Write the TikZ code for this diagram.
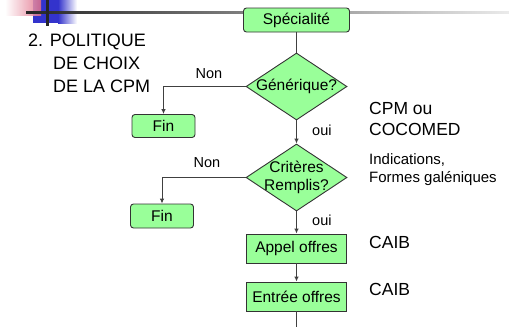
\documentclass[tikz,border=0pt]{standalone}
\usepackage{fontspec}
\setmainfont{Liberation Sans}
\usetikzlibrary{shapes.geometric,arrows.meta}
\definecolor{boxgreen}{RGB}{153,255,153}
\definecolor{linegray}{RGB}{64,64,64}
\definecolor{bannerblue}{RGB}{51,51,204}
\definecolor{bannerred}{RGB}{225,110,135}

\begin{document}
\begin{tikzpicture}[x=1pt,y=-1pt]

\tikzset{
  BoxStyle/.style = { rectangle, draw=black!80, fill=boxgreen, line width=0.9pt,
                      inner sep=0pt, font=\fontsize{15.5}{18}\selectfont },
  RoundBoxStyle/.style = { BoxStyle, rounded corners=3pt },
  DecisionStyle/.style = { diamond, draw=black!80, fill=boxgreen, line width=0.9pt,
                           aspect=1.5, inner sep=-4pt, align=center,
                           minimum width=101pt, minimum height=67pt,
                           font=\fontsize{15.5}{18}\selectfont },
  EdgeStyle/.style = { draw=linegray, line width=0.9pt,
                       -{Latex[length=5pt,width=4.5pt]} },
  LabelStyle/.style = { inner sep=0pt, anchor=west, text height=0.72em,
                        text depth=0.2em, font=\fontsize{14.5}{16}\selectfont },
  NoteStyle/.style = { LabelStyle, font=\fontsize{17.5}{19}\selectfont },
  SmallNoteStyle/.style = { LabelStyle, font=\fontsize{15}{17}\selectfont },
  TitleStyle/.style = { LabelStyle, font=\fontsize{18}{20}\selectfont } }

  \useasboundingbox (0,0) rectangle (509,327);

  % bandeau
  \fill[bannerblue] (33,0) rectangle (58,23);
  \shade[left color=bannerblue, right color=white] (58,0) rectangle (77,23);
  \shade[left color=white, right color=bannerred, opacity=0.85] (5,0) rectangle (41,15);
  \shade[left color=black!85, right color=black!8] (26,11) rectangle (509,13.5);
  \fill[black!85] (45.5,0) rectangle (48.5,26);

  \node[TitleStyle] (titre1) at (28,44) {2. POLITIQUE};
  \node[TitleStyle] (titre2) at (53,67) {DE CHOIX};
  \node[TitleStyle] (titre3) at (53,90) {DE LA CPM};

  \node[RoundBoxStyle, minimum width=106pt, minimum height=24pt] (spec) at (296.5,20) {Spécialité};
  \node[DecisionStyle] (gen) at (296.5,86.5) {Générique?};
  \node[RoundBoxStyle, minimum width=63pt, minimum height=23pt] (fin1) at (163.5,126) {Fin};
  \node[DecisionStyle] (crit) at (296.5,177.5) {Critères\\Remplis?};
  \node[RoundBoxStyle, minimum width=63pt, minimum height=24pt] (fin2) at (162,216) {Fin};
  \node[BoxStyle, minimum width=100pt, minimum height=29pt] (appel) at (296.5,248.5) {Appel offres};
  \node[BoxStyle, minimum width=100pt, minimum height=29pt] (entree) at (296.5,296.5) {Entrée offres};
  \coordinate (suite) at (296.5,327);

  \draw[EdgeStyle, -] (spec) -- (gen);
  \draw[EdgeStyle] (gen.west) -| (fin1.north);
  \draw[EdgeStyle] (gen) -- (crit);
  \draw[EdgeStyle] (crit.west) -| (fin2.north);
  \draw[EdgeStyle] (crit) -- (appel);
  \draw[EdgeStyle] (appel) -- (entree);
  \draw[EdgeStyle, -] (entree) -- (suite);

  \node[LabelStyle, anchor=center] (non1) at (209,76) {Non};
  \node[LabelStyle, anchor=center] (non2) at (207,165) {Non};
  \node[LabelStyle] (oui1) at (312,133) {oui};
  \node[LabelStyle] (oui2) at (312,223) {oui};

  \node[NoteStyle] (cpm) at (369,112) {CPM ou};
  \node[NoteStyle] (cocomed) at (369,133) {COCOMED};
  \node[SmallNoteStyle] (indic) at (369,162) {Indications,};
  \node[SmallNoteStyle] (formes) at (369,180) {Formes galéniques};
  \node[NoteStyle] (caib1) at (369,246) {CAIB};
  \node[NoteStyle] (caib2) at (369,293) {CAIB};

\end{tikzpicture}
\end{document}
